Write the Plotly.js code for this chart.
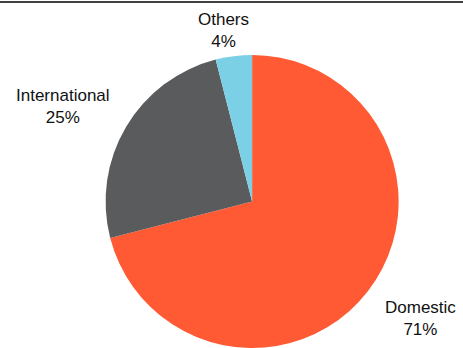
<!DOCTYPE html>
<html>
<head>
<meta charset="utf-8">
<script src="https://cdn.plot.ly/plotly-3.0.1.min.js"></script>
<style>html,body{margin:0;padding:0;background:#fff;overflow:hidden}#chart{width:463px;height:348px}</style>
</head>
<body>
<div id="chart"></div>
<script>
const categories = ["Domestic", "International", "Others"];
const shares = [71, 25, 4];
const sliceColors = ["#FF5A34", "#5A5B5D", "#7BD0E6"];

// label placement (layout only)
const labelPos = {
  "Domestic": [420, 318],
  "International": [63, 106],
  "Others": [223, 31]
};
const W = 463, H = 348;

const annotations = categories.map((c, i) => ({
  xref: "paper", yref: "paper",
  x: labelPos[c][0] / W, y: 1 - labelPos[c][1] / H,
  xanchor: "center", yanchor: "middle",
  text: c + "<br>" + shares[i] + "%",
  showarrow: false,
  font: {family: "Liberation Sans, Arial, sans-serif", size: 17, color: "#111"}
}));

const data = [{
  type: "pie",
  labels: categories,
  values: shares,
  marker: {colors: sliceColors, line: {width: 0}},
  sort: false,
  direction: "clockwise",
  rotation: 0,
  textinfo: "none",
  hoverinfo: "label+percent",
  domain: {x: [0.228, 0.861], y: [0, 0.842]}
}];

const layout = {
  width: W, height: H,
  margin: {l: 0, r: 0, t: 0, b: 0},
  showlegend: false,
  paper_bgcolor: "#fff",
  annotations: annotations,
  shapes: [{
    type: "line", xref: "paper", yref: "paper",
    x0: 0, x1: 1, y0: 1 - 2 / H, y1: 1 - 2 / H,
    line: {color: "#000", width: 1.5}
  }]
};

Plotly.newPlot("chart", data, layout, {displayModeBar: false, staticPlot: true});
</script>
</body>
</html>
